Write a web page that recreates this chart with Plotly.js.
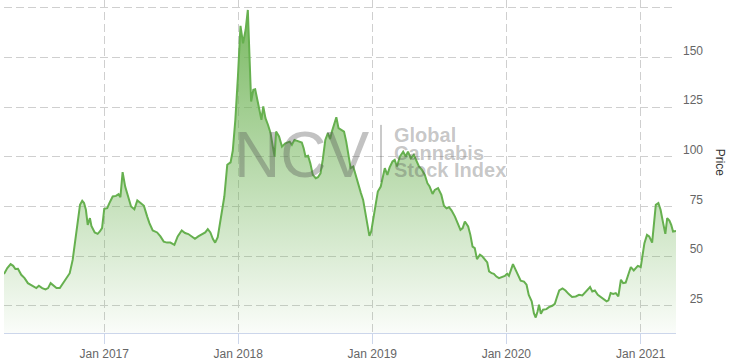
<!DOCTYPE html>
<html>
<head>
<meta charset="utf-8">
<script src="https://cdn.plot.ly/plotly-3.0.1.min.js"></script>
<style>html,body{margin:0;padding:0;background:#fff;}#chart{width:732px;height:361px;}</style>
</head>
<body>
<div id="chart"></div>
<script>
const dates = [
'2016-04-03','2016-04-12','2016-04-21','2016-04-28','2016-05-04','2016-05-11','2016-05-20','2016-05-29','2016-06-07','2016-06-21','2016-06-30',
'2016-07-07','2016-07-16','2016-07-25','2016-08-01','2016-08-08','2016-08-16','2016-08-24','2016-09-02','2016-09-11','2016-09-20','2016-09-29',
'2016-10-07','2016-10-16','2016-10-23','2016-10-27','2016-11-02','2016-11-07','2016-11-12','2016-11-17','2016-11-23','2016-11-27','2016-12-06',
'2016-12-14','2016-12-20','2016-12-26',
'2017-01-01','2017-01-09','2017-01-15','2017-01-24','2017-02-02','2017-02-09','2017-02-14','2017-02-20','2017-02-27','2017-03-06','2017-03-15',
'2017-03-24','2017-04-01','2017-04-10','2017-04-19','2017-04-28','2017-05-04','2017-05-13','2017-05-25','2017-06-03','2017-06-12','2017-06-21',
'2017-06-30','2017-07-11','2017-07-20','2017-07-31','2017-08-09','2017-08-18','2017-08-27','2017-09-05','2017-09-14','2017-09-23','2017-10-03',
'2017-10-10','2017-10-17','2017-10-24','2017-10-30','2017-11-06','2017-11-15','2017-11-24','2017-12-02','2017-12-11','2017-12-17','2017-12-24',
'2017-12-31',
'2018-01-07','2018-01-14','2018-01-21','2018-01-27','2018-02-01','2018-02-05','2018-02-11','2018-02-16','2018-02-22','2018-02-28','2018-03-05',
'2018-03-10','2018-03-16','2018-03-23','2018-03-30','2018-04-05','2018-04-10','2018-04-14','2018-04-22','2018-04-30','2018-05-09','2018-05-21',
'2018-05-27','2018-06-03','2018-06-10','2018-06-17','2018-06-23','2018-06-28','2018-07-03','2018-07-10','2018-07-16','2018-07-23','2018-07-31',
'2018-08-06','2018-08-13','2018-08-19','2018-08-26','2018-09-02','2018-09-08','2018-09-13','2018-09-19','2018-09-25','2018-10-01','2018-10-09',
'2018-10-16','2018-10-22','2018-10-29','2018-11-03','2018-11-10','2018-11-16','2018-11-23','2018-12-01','2018-12-07','2018-12-13','2018-12-19',
'2018-12-24','2018-12-29',
'2019-01-05','2019-01-12','2019-01-16','2019-01-24','2019-01-30','2019-02-04','2019-02-11','2019-02-17','2019-02-25','2019-03-03','2019-03-09',
'2019-03-17','2019-03-26','2019-04-02','2019-04-08','2019-04-16','2019-04-24','2019-05-01','2019-05-08','2019-05-16','2019-05-24','2019-05-31',
'2019-06-06','2019-06-14','2019-06-20','2019-06-29','2019-07-08','2019-07-15','2019-07-22','2019-07-29','2019-08-05','2019-08-14','2019-08-21',
'2019-08-29','2019-09-04','2019-09-10','2019-09-19','2019-09-25','2019-10-01','2019-10-07','2019-10-13','2019-10-21','2019-10-28','2019-11-03',
'2019-11-10','2019-11-15','2019-11-22','2019-11-28','2019-12-05','2019-12-12','2019-12-22','2019-12-28',
'2020-01-03','2020-01-08','2020-01-19','2020-01-26','2020-02-02','2020-02-09','2020-02-18','2020-02-25','2020-03-02','2020-03-10','2020-03-16',
'2020-03-21','2020-03-26','2020-03-30','2020-04-04','2020-04-10','2020-04-19','2020-04-26','2020-05-05','2020-05-12','2020-05-17','2020-05-24',
'2020-06-02','2020-06-10','2020-06-19','2020-06-28','2020-07-08','2020-07-17','2020-07-26','2020-08-02','2020-08-09','2020-08-16','2020-08-22',
'2020-08-29','2020-09-06','2020-09-15','2020-09-24','2020-09-30','2020-10-05','2020-10-11','2020-10-18','2020-10-25','2020-11-01','2020-11-08',
'2020-11-14','2020-11-21','2020-11-28','2020-12-05','2020-12-13','2020-12-18','2020-12-24',
'2021-01-01','2021-01-06','2021-01-11','2021-01-18','2021-01-24','2021-02-01','2021-02-06','2021-02-11','2021-02-18','2021-02-24','2021-03-03',
'2021-03-09','2021-03-14','2021-03-20','2021-03-25','2021-03-30','2021-04-07'
];
const price = [
41.0,44.0,46.0,45.1,43.5,43.6,40.6,38.9,36.4,34.7,33.9,
35.1,33.9,33.2,33.9,36.4,35.2,33.9,33.9,36.4,38.4,41.4,
48.1,59.9,69.9,75.8,77.8,76.7,73.3,65.7,69.1,65.2,61.9,
61.2,62.4,64.1,
73.8,74.1,76.7,80.0,80.3,81.2,79.7,92.3,85.0,80.0,75.0,
73.6,78.0,76.7,75.3,69.9,66.6,62.9,61.9,59.9,57.3,56.8,
56.8,55.7,59.9,62.9,61.6,61.1,59.9,58.7,59.9,60.7,61.9,
63.6,61.9,58.6,56.8,59.5,69.0,80.0,96.0,97.2,103.0,118.6,
140.3,
165.9,157.1,163.9,173.9,152.1,127.8,133.7,134.0,128.6,122.7,118.6,
125.3,119.4,116.0,111.9,105.1,100.1,112.7,110.2,105.1,106.8,107.6,
106.0,108.5,108.0,107.5,107.2,104.3,100.1,100.5,96.8,90.9,89.2,
89.7,91.7,98.4,108.5,111.9,108.9,112.7,116.0,119.9,114.4,113.5,
112.7,107.6,99.3,94.3,95.1,90.9,85.9,81.7,78.3,72.4,66.6,
60.2,62.4,
69.9,78.3,82.5,85.0,90.0,94.3,90.9,94.5,97.6,98.4,95.1,
100.1,102.6,100.1,102.6,99.3,101.0,98.4,95.1,93.4,90.9,86.7,
85.0,81.3,83.3,84.2,80.8,75.3,74.1,74.6,72.9,69.9,66.6,
63.2,64.1,67.4,64.9,60.7,54.8,54.0,48.5,50.7,49.8,48.1,
46.8,42.3,41.4,41.1,39.7,38.9,39.7,40.0,
41.1,40.1,46.0,43.1,40.6,37.6,37.2,35.6,30.5,27.2,21.3,
19.1,22.1,25.5,21.0,23.0,23.3,24.3,25.0,26.0,28.9,32.7,
33.7,32.7,30.9,29.4,29.7,30.5,30.2,31.7,32.7,34.4,32.2,
32.7,30.5,29.4,28.2,27.2,27.7,31.4,31.0,31.4,29.7,38.1,
36.4,36.7,40.6,44.5,42.8,44.0,45.1,
44.5,50.7,56.5,60.7,59.9,56.8,66.6,75.8,76.7,73.3,66.6,
61.2,69.1,67.9,65.7,62.4,62.7
];
const yTickVals = [25, 50, 75, 100, 125, 150, 175];
const yTickText = ['\u200725', '\u200750', '\u200775', '100', '125', '150', '175'];
const yTitle = 'Price';
const watermarkMain = 'NCV';
const watermarkLines = ['Global', 'Cannabis', 'Stock Index'];

const FONT = '"Liberation Sans", Arial, sans-serif';
const gridDash = '8px,4px';

const trace = {
  x: dates, y: price, type: 'scatter', mode: 'lines',
  line: {color: '#66b04f', width: 2},
  fill: 'tozeroy',
  fillgradient: {
    type: 'vertical', start: 11, stop: 165,
    colorscale: [[0, 'rgba(106,177,80,0.03)'], [1, 'rgba(106,177,80,0.85)']]
  },
  hoverinfo: 'skip'
};

const layout = {
  width: 732, height: 361,
  margin: {l: 4, r: 56, t: 0, b: 28, pad: 0},
  paper_bgcolor: '#fff', plot_bgcolor: '#fff',
  showlegend: false,
  font: {family: FONT, size: 12, color: '#666'},
  xaxis: {
    type: 'date', range: [dates[0], dates[dates.length - 1]],
    tick0: '2017-01-01', dtick: 'M12', tickformat: '%b %Y',
    ticks: 'outside', ticklen: 10, tickcolor: '#ccd6eb', tickwidth: 1,
    showline: true, linecolor: '#ccd6eb', linewidth: 1,
    showgrid: true, gridcolor: '#cfcfcf', griddash: gridDash, gridwidth: 1,
    zeroline: false, tickfont: {size: 12, color: '#666', family: FONT}
  },
  yaxis: {
    side: 'right', range: [11.3, 178.9],
    tickvals: yTickVals, ticktext: yTickText,
    ticks: '', showline: false, zeroline: false,
    showgrid: true, gridcolor: '#cfcfcf', griddash: gridDash, gridwidth: 1,
    tickfont: {size: 12, color: '#666', family: FONT},
    ticklabelshift: -7, ticklabelstandoff: 6
  },
  annotations: [
    {text: yTitle, xref: 'paper', yref: 'paper', x: 1.0647, y: 0.51, textangle: 90,
     showarrow: false, xanchor: 'center', yanchor: 'middle', font: {size: 12, color: '#333', family: FONT}},
    {text: watermarkMain, xref: 'paper', yref: 'paper', x: 0.442, y: 0.535, showarrow: false,
     xanchor: 'center', yanchor: 'middle', font: {size: 64, color: 'rgba(80,80,80,0.35)', family: FONT}},
    {text: '<b>' + watermarkLines[0] + '</b>', xref: 'paper', yref: 'paper', x: 0.577, y: 0.595, showarrow: false,
     xanchor: 'left', yanchor: 'middle', font: {size: 20, color: 'rgba(80,80,80,0.33)', family: FONT}},
    {text: '<b>' + watermarkLines[1] + '</b>', xref: 'paper', yref: 'paper', x: 0.577, y: 0.542, showarrow: false,
     xanchor: 'left', yanchor: 'middle', font: {size: 20, color: 'rgba(80,80,80,0.33)', family: FONT}},
    {text: '<b>' + watermarkLines[2] + '</b>', xref: 'paper', yref: 'paper', x: 0.577, y: 0.489, showarrow: false,
     xanchor: 'left', yanchor: 'middle', font: {size: 20, color: 'rgba(80,80,80,0.33)', family: FONT}}
  ],
  shapes: [
    {type: 'line', xref: 'paper', yref: 'paper', x0: 0.561, x1: 0.561, y0: 0.4535, y1: 0.625,
     line: {color: 'rgba(80,80,80,0.3)', width: 2}}
  ]
};

Plotly.newPlot('chart', [trace], layout, {staticPlot: true, displayModeBar: false});
</script>
</body>
</html>
